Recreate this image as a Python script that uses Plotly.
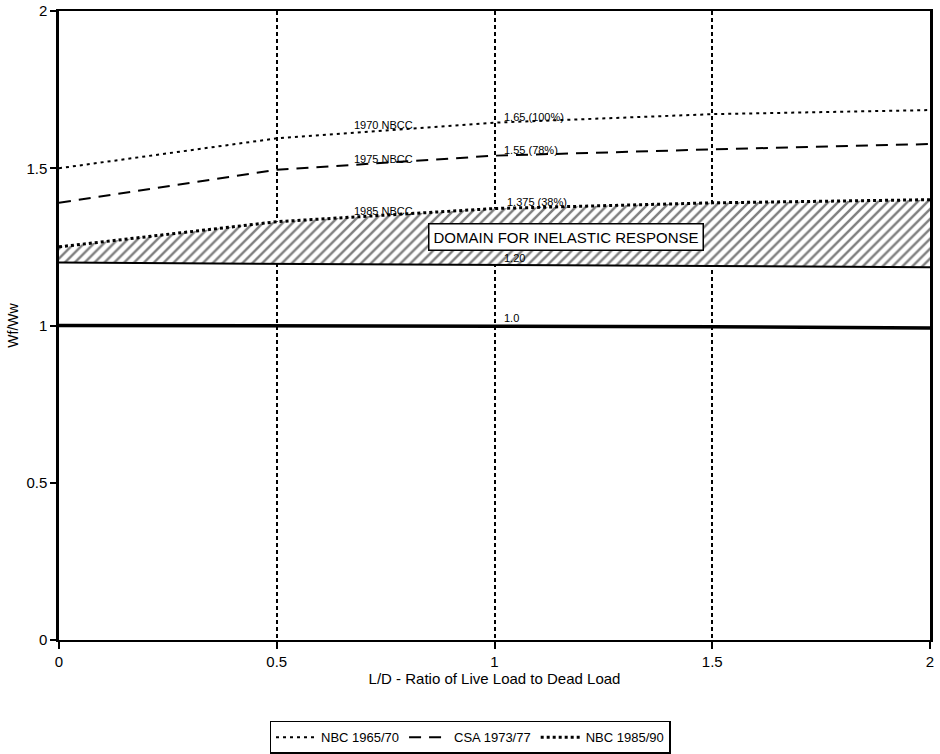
import plotly.graph_objects as go

# Data
ld_ratio = [0, 0.5, 1.0, 1.5, 2.0]
nbc_1965_70 = [1.50, 1.595, 1.645, 1.672, 1.685]
csa_1973_77 = [1.39, 1.495, 1.540, 1.560, 1.577]
nbc_1985_90 = [1.25, 1.330, 1.372, 1.390, 1.400]
lower_bound = [1.20, 1.197, 1.193, 1.189, 1.185]
unity = [1.0, 1.0, 0.998, 0.996, 0.992]

ticks = [0, 0.5, 1, 1.5, 2]
tick_text = ["0", "0.5", "1", "1.5", "2"]

FONT = "Liberation Sans, Arial, sans-serif"

fig = go.Figure()

fig.add_trace(go.Scatter(x=ld_ratio, y=lower_bound, mode="lines",
                         line=dict(color="black", width=2), showlegend=False,
                         hoverinfo="skip"))
fig.add_trace(go.Scatter(x=ld_ratio, y=nbc_1985_90, mode="lines", showlegend=False,
                         line=dict(color="black", width=0),
                         fill="tonexty", fillcolor="white",
                         fillpattern=dict(shape="/", fgcolor="black", bgcolor="white",
                                          size=7, solidity=0.35),
                         hoverinfo="skip"))
fig.add_trace(go.Scatter(x=ld_ratio, y=nbc_1965_70, mode="lines", name="NBC 1965/70",
                         line=dict(color="black", width=2, dash="3px,4px")))
fig.add_trace(go.Scatter(x=ld_ratio, y=csa_1973_77, mode="lines", name="CSA 1973/77",
                         line=dict(color="black", width=2, dash="12px,8px")))
fig.add_trace(go.Scatter(x=ld_ratio, y=nbc_1985_90, mode="lines", name="NBC 1985/90",
                         line=dict(color="black", width=3, dash="3px,3px")))
fig.add_trace(go.Scatter(x=ld_ratio, y=unity, mode="lines", showlegend=False,
                         line=dict(color="black", width=3.5), hoverinfo="skip"))

small = dict(family=FONT, size=11, color="black")
ann = [
    dict(x=0.746, y=1.638, text="1970 NBCC", xanchor="center"),
    dict(x=1.017, y=1.663, text="1.65 (100%)", xanchor="left"),
    dict(x=0.744, y=1.529, text="1975 NBCC", xanchor="center"),
    dict(x=1.017, y=1.558, text="1.55 (78%)", xanchor="left"),
    dict(x=0.746, y=1.364, text="1985 NBCC", xanchor="center"),
    dict(x=1.024, y=1.393, text="1.375 (38%)", xanchor="left"),
    dict(x=1.017, y=1.215, text="1.20", xanchor="left"),
    dict(x=1.017, y=1.024, text="1.0", xanchor="left"),
]
annotations = [dict(a, showarrow=False, font=small, yanchor="middle") for a in ann]
annotations.append(dict(x=1.164, y=1.281, text="DOMAIN FOR INELASTIC RESPONSE",
                        showarrow=False, font=dict(family=FONT, size=15, color="black"),
                        bgcolor="white", bordercolor="black", borderwidth=1.5, borderpad=4))

fig.update_layout(
    width=940, height=754,
    margin=dict(l=59, r=10, t=11, b=114),
    paper_bgcolor="white", plot_bgcolor="white",
    font=dict(family=FONT, size=14, color="black"),
    annotations=annotations,
    showlegend=True,
    legend=dict(orientation="h", xref="container", yref="container",
                x=0.5, xanchor="center", y=0.022, yanchor="middle",
                bordercolor="black", borderwidth=1.5, font=dict(size=13),
                traceorder="normal", itemwidth=40, tracegroupgap=0, itemclick=False),
    xaxis=dict(range=[0, 2], tickvals=ticks, ticktext=tick_text, automargin=False,
               showline=True, linecolor="black", linewidth=2, mirror=True,
               ticks="outside", ticklen=7, tickwidth=2, tickcolor="black",
               tickfont=dict(size=15), ticklabeloverflow="allow",
               showgrid=True, gridcolor="black", gridwidth=2, griddash="4px,3px",
               zeroline=False,
               title=dict(text="L/D - Ratio of Live Load to Dead Load", standoff=2,
                          font=dict(size=15))),
    yaxis=dict(range=[0, 2], tickvals=ticks, ticktext=tick_text, automargin=False,
               showline=True, linecolor="black", linewidth=2.5, mirror=True,
               ticks="outside", ticklen=6, tickwidth=2, tickcolor="black",
               tickfont=dict(size=15), ticklabeloverflow="allow",
               showgrid=False, zeroline=False,
               title=dict(text="Wf/Ww", standoff=5, font=dict(size=14))),
)

fig.write_html("out.html", config={"displayModeBar": False},
               post_script="document.body.style.margin='0';")
